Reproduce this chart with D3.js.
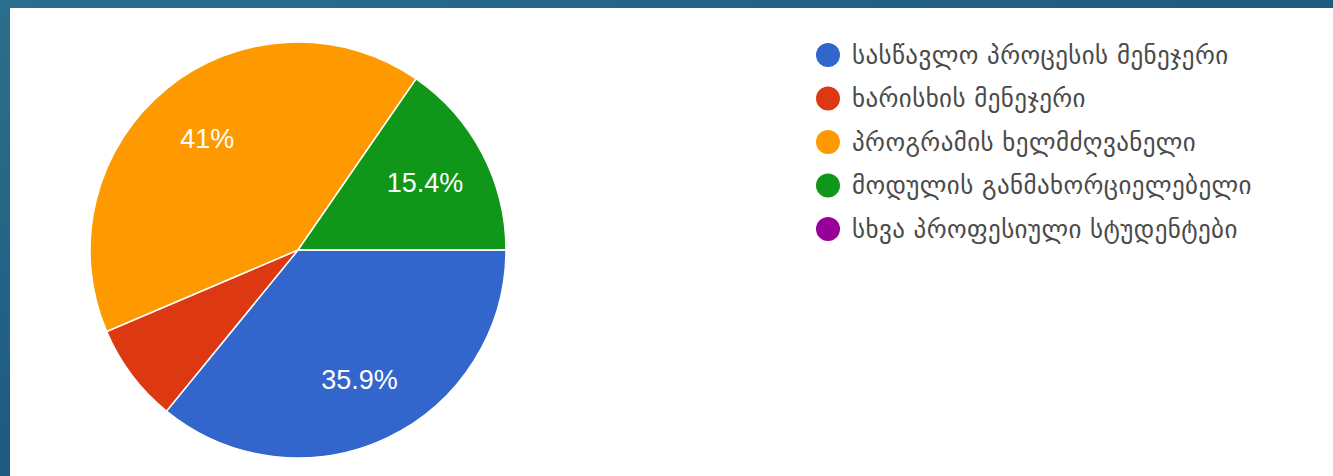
<!DOCTYPE html>
<html>
<head>
<meta charset="utf-8">
<script src="https://cdn.jsdelivr.net/npm/d3@7"></script>
<style>
  html, body { margin: 0; padding: 0; }
  body { width: 1333px; height: 476px; overflow: hidden; }
</style>
</head>
<body>
<svg id="chart" width="1333" height="476"></svg>
<script>
const categories = [
  "სასწავლო პროცესის მენეჯერი",
  "ხარისხის მენეჯერი",
  "პროგრამის ხელმძღვანელი",
  "მოდულის განმახორციელებელი",
  "სხვა პროფესიული სტუდენტები"
];
const values = [14, 3, 16, 6, 0];
const colors = ["#3366cc", "#dc3912", "#ff9900", "#109618", "#990099"];

const svg = d3.select("#chart");

// slide background
const defs = svg.append("defs");
const grad = defs.append("linearGradient").attr("id", "bg").attr("x1", "0").attr("y1", "0").attr("x2", "1").attr("y2", "1");
grad.append("stop").attr("offset", "0%").attr("stop-color", "#2a6f8c");
grad.append("stop").attr("offset", "50%").attr("stop-color", "#1f5a80");
grad.append("stop").attr("offset", "100%").attr("stop-color", "#1b4a74");
svg.append("rect").attr("width", 1333).attr("height", 476).attr("fill", "url(#bg)");
svg.append("rect").attr("x", 10).attr("y", 8).attr("width", 1323).attr("height", 468).attr("fill", "#ffffff");

const cx = 298, cy = 250, R = 208;
const total = d3.sum(values);

const pie = d3.pie().sort(null).value(d => d)
  .startAngle(Math.PI / 2).endAngle(Math.PI / 2 + 2 * Math.PI);
const arcs = pie(values);
const arc = d3.arc().innerRadius(0).outerRadius(R);
const labelArc = d3.arc().innerRadius(R * 0.69).outerRadius(R * 0.69);

const g = svg.append("g").attr("transform", `translate(${cx},${cy})`);
g.selectAll("path").data(arcs).join("path")
  .attr("d", arc)
  .attr("fill", (d, i) => colors[i])
  .attr("stroke", "#ffffff")
  .attr("stroke-width", 1.5);

const fmt = v => {
  const p = v / total * 100;
  const r = Math.round(p * 10) / 10;
  return (Number.isInteger(r) ? r.toFixed(0) : r.toFixed(1)) + "%";
};

g.selectAll("text").data(arcs.filter(d => d.value / total >= 0.1)).join("text")
  .attr("transform", d => `translate(${labelArc.centroid(d)})`)
  .attr("text-anchor", "middle")
  .attr("dominant-baseline", "central")
  .attr("fill", "#ffffff")
  .attr("font-family", "Arial, 'Liberation Sans', sans-serif")
  .attr("font-size", 27)
  .text(d => fmt(d.value));

// legend
const ly = d3.scalePoint().domain(d3.range(categories.length)).range([55, 229]);
const leg = svg.append("g");
const items = leg.selectAll("g").data(categories).join("g")
  .attr("transform", (d, i) => `translate(828,${ly(i)})`);
items.append("circle").attr("r", 12).attr("fill", (d, i) => colors[i]);
items.append("text")
  .attr("x", 24)
  .attr("dominant-baseline", "central")
  .attr("fill", "#4a4a4a")
  .attr("font-family", "'DejaVu Sans', sans-serif")
  .attr("font-size", 25)
  .attr("letter-spacing", 0.4)
  .text(d => d);
</script>
</body>
</html>
